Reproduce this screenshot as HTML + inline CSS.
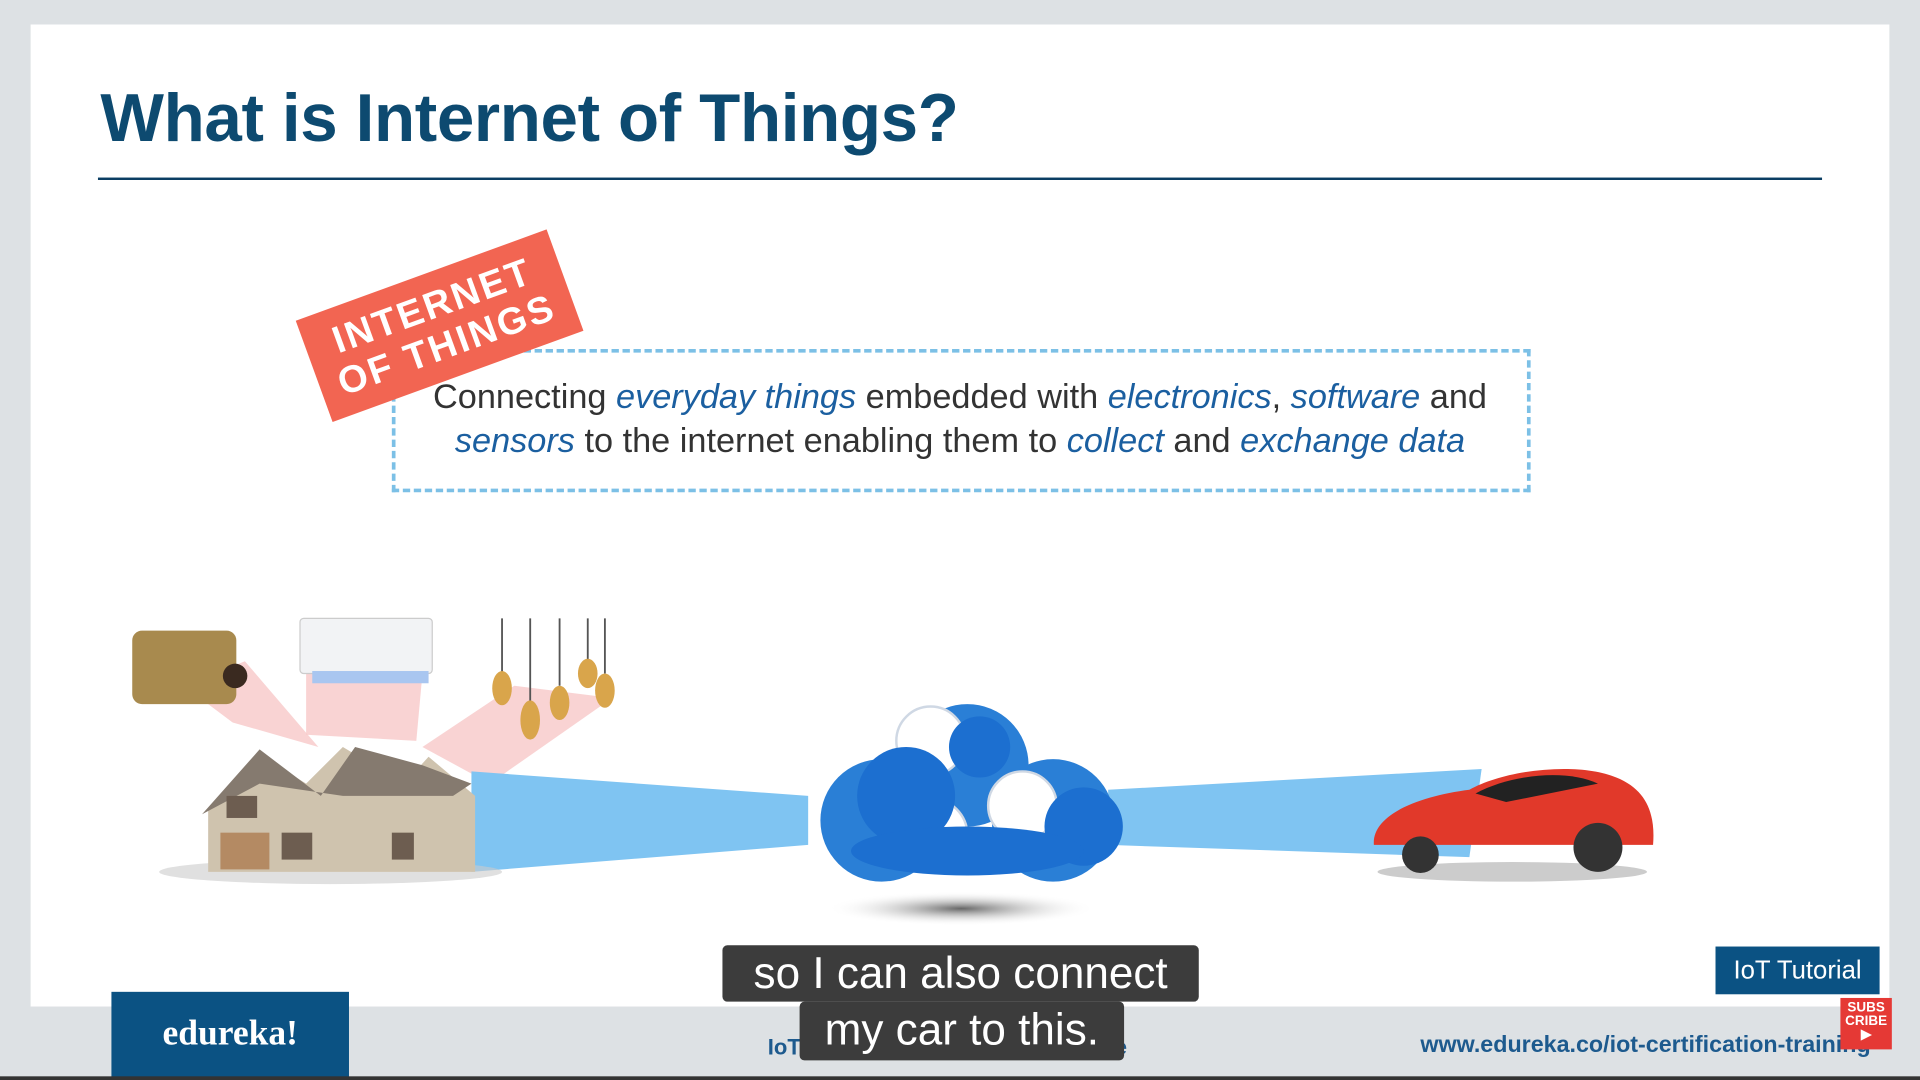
<!DOCTYPE html>
<html><head><meta charset="utf-8"><style>
html,body{margin:0;padding:0;width:1920px;height:1080px;overflow:hidden;background:#dde1e4;}
#s{position:absolute;left:0;top:0;width:1568px;height:882px;transform:scale(1.22449);transform-origin:0 0;font-family:"Liberation Sans",sans-serif;}
.abs{position:absolute;}
</style></head><body><div id="s">
<div class="abs" style="left:25px;top:20px;width:1518px;height:802px;background:#fff;"></div>
<div class="abs" style="left:82px;top:64px;font-size:55px;font-weight:bold;color:#0d4a70;letter-spacing:-0.3px;">What is Internet of Things?</div>
<div class="abs" style="left:80px;top:145px;width:1408px;height:2px;background:#0b3e63;"></div>
<div class="abs" style="left:320px;top:285px;width:924px;height:111px;border:3px dashed #7cc0e6;"></div>
<div class="abs" style="left:250px;top:222px;width:218px;height:88px;background:#f26552;transform:rotate(-20deg);color:#fff;font-weight:bold;font-size:31px;line-height:34px;text-align:center;letter-spacing:2px;padding-top:10px;box-sizing:border-box;">INTERNET<br>OF THINGS</div>
<div class="abs" style="left:300px;top:306px;width:968px;text-align:center;font-size:28px;line-height:36px;color:#333;">Connecting <i style="color:#1b5fa0">everyday things</i> embedded with <i style="color:#1b5fa0">electronics</i>, <i style="color:#1b5fa0">software</i> and<br><i style="color:#1b5fa0">sensors</i> to the internet enabling them to <i style="color:#1b5fa0">collect</i> and <i style="color:#1b5fa0">exchange data</i></div>
<svg class="abs" style="left:0;top:0" width="1568" height="882">
<defs><radialGradient id="sh"><stop offset="0" stop-color="#666"/><stop offset="1" stop-color="#fff" stop-opacity="0"/></radialGradient></defs>
<polygon points="190,590 150,560 200,540 260,610" fill="#f8c8c8" opacity=".8"/>
<polygon points="250,600 250,550 345,550 340,605" fill="#f8c8c8" opacity=".8"/>
<polygon points="345,610 420,560 500,570 400,640" fill="#f8c8c8" opacity=".8"/>
<polygon points="385,630 660,650 660,690 385,712" fill="#7fc4f2"/>
<polygon points="905,645 1210,628 1200,700 905,690" fill="#7fc4f2"/>
<ellipse cx="785" cy="742" rx="110" ry="14" fill="url(#sh)"/>
<rect x="108" y="515" width="85" height="60" rx="8" fill="#a88a4e"/>
<circle cx="192" cy="552" r="10" fill="#3a2a20"/>
<rect x="245" y="505" width="108" height="45" rx="3" fill="#f2f3f5" stroke="#ccc"/>
<rect x="255" y="548" width="95" height="10" fill="#a9c6f0"/>
<g stroke="#555" stroke-width="1.5"><line x1="410" y1="505" x2="410" y2="550"/><line x1="433" y1="505" x2="433" y2="575"/><line x1="457" y1="505" x2="457" y2="560"/><line x1="480" y1="505" x2="480" y2="540"/><line x1="494" y1="505" x2="494" y2="550"/></g>
<g fill="#d9a54b"><ellipse cx="410" cy="562" rx="8" ry="14"/><ellipse cx="433" cy="588" rx="8" ry="16"/><ellipse cx="457" cy="574" rx="8" ry="14"/><ellipse cx="480" cy="550" rx="8" ry="12"/><ellipse cx="494" cy="564" rx="8" ry="14"/></g>
<ellipse cx="270" cy="712" rx="140" ry="10" fill="#ccc" opacity=".6"/>
<polygon points="170,660 210,615 250,640 280,610 330,640 350,618 388,650 388,712 170,712" fill="#cfc3ae"/>
<polygon points="165,665 212,612 262,650 290,610 345,625 385,640 370,650 280,650 212,640" fill="#857a6f"/>
<rect x="185" y="650" width="25" height="18" fill="#6d5d50"/><rect x="230" y="680" width="25" height="22" fill="#6d5d50"/><rect x="320" y="680" width="18" height="22" fill="#6d5d50"/>
<rect x="180" y="680" width="40" height="30" fill="#b48a63"/>
<g fill="#2a7fd6"><circle cx="720" cy="670" r="50"/><circle cx="790" cy="625" r="50"/><circle cx="860" cy="670" r="50"/></g>
<g fill="#fff" stroke="#cfd8e4" stroke-width="2"><circle cx="760" cy="605" r="28"/><circle cx="835" cy="658" r="28"/><circle cx="760" cy="682" r="30"/></g>
<g fill="#1c6fd0"><circle cx="740" cy="650" r="40"/><circle cx="800" cy="610" r="25"/><circle cx="885" cy="675" r="32"/><ellipse cx="790" cy="695" rx="95" ry="20"/></g>
<ellipse cx="1235" cy="712" rx="110" ry="8" fill="#ccc"/>
<path d="M1122,690 C1120,665 1160,650 1200,645 C1230,628 1290,622 1320,635 C1345,645 1352,665 1350,690 Z" fill="#e1392a"/>
<path d="M1205,648 C1235,632 1280,628 1305,640 L1230,655 Z" fill="#222"/>
<circle cx="1160" cy="698" r="15" fill="#333"/><circle cx="1305" cy="692" r="20" fill="#333"/>
</svg>
<div class="abs" style="left:91px;top:810px;width:194px;height:72px;background:#0b5283;color:#fff;font-family:'Liberation Serif',serif;font-weight:bold;font-size:29px;text-align:center;line-height:68px;">edureka!</div>
<div class="abs" style="left:627px;top:845px;font-size:18px;font-weight:bold;color:#1d5a8e;">IoT Certification Training on Azure</div>
<div class="abs" style="left:1160px;top:843px;font-size:19px;font-weight:bold;color:#1d5a8e;">www.edureka.co/iot-certification-training</div>
<div class="abs" style="left:1401px;top:773px;width:134px;height:39px;background:#0b5283;color:#fff;font-size:21px;line-height:39px;text-align:center;">IoT Tutorial</div>
<div class="abs" style="left:1503px;top:815px;width:42px;height:42px;background:#e53935;color:#fff;font-size:11px;font-weight:bold;line-height:11px;text-align:center;padding-top:3px;box-sizing:border-box;">SUBS<br>CRIBE<br>▶</div>
<div class="abs" style="left:590px;top:772px;width:389px;height:46px;background:#3c3c3c;border-radius:4px;color:#fff;font-size:36px;line-height:46px;text-align:center;">so I can also connect</div>
<div class="abs" style="left:653px;top:818px;width:265px;height:48px;background:#3c3c3c;border-radius:4px;color:#fff;font-size:36px;line-height:46px;text-align:center;">my car to this.</div>
<div class="abs" style="left:0;top:879px;width:1568px;height:3px;background:#333;"></div>
</div></body></html>
